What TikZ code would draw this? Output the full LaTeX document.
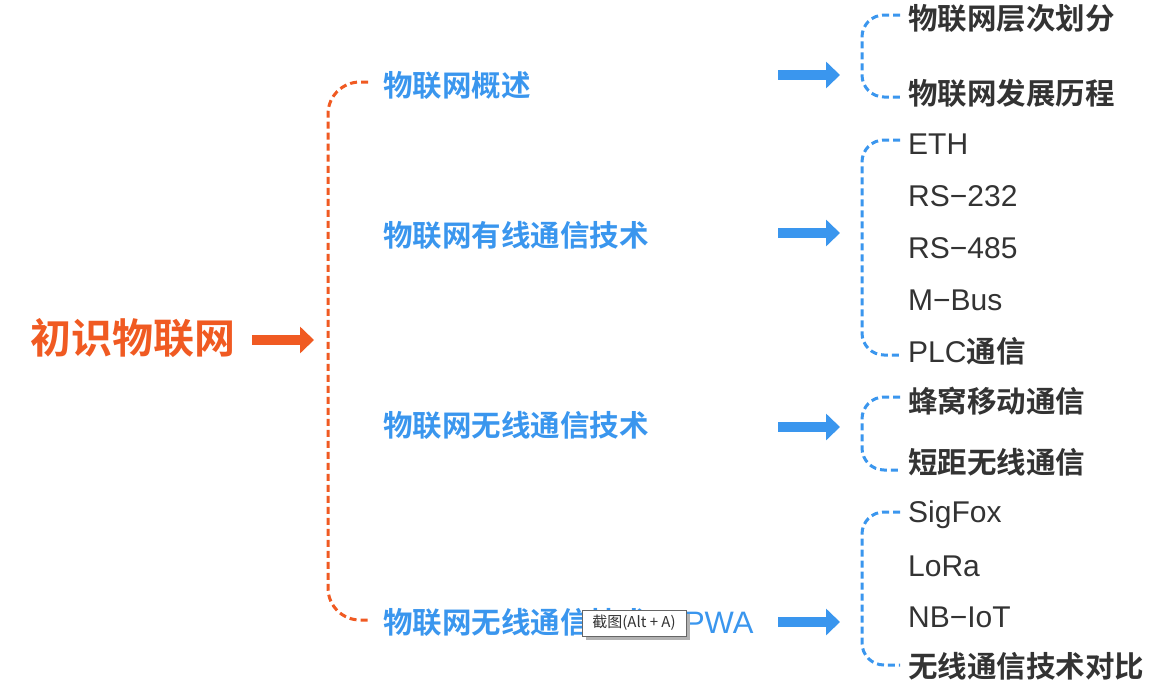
\documentclass[tikz,border=0pt]{standalone}
\usepackage{fontspec}
\setmainfont{Noto Sans CJK SC}[BoldFont={Noto Sans CJK SC Bold}]
\newfontfamily\lat{Liberation Sans}
\usetikzlibrary{arrows.meta}
\definecolor{org}{HTML}{F05A22}
\definecolor{blu}{HTML}{3A96EE}
\definecolor{txt}{HTML}{333333}
\begin{document}
\begin{tikzpicture}[x=1pt,y=-1pt,
  lbl/.style={anchor=west,inner sep=0pt,text=blu,font=\bfseries\fontsize{29.5}{29.5}\selectfont},
  leaf/.style={anchor=west,inner sep=0pt,text=txt,font=\bfseries\fontsize{29.5}{29.5}\selectfont},
  lleaf/.style={leaf,font=\lat\fontsize{30}{30}\selectfont},
  barr/.style={draw=blu,line width=10pt,-{Triangle[length=14pt,width=26pt]}},
  brace/.style={draw=blu,line width=3pt,dash pattern=on 7pt off 4pt,rounded corners=22pt},
  rbrace/.style={draw=org,line width=3pt,dash pattern=on 7pt off 4pt,rounded corners=32pt}]
\useasboundingbox (0,0) rectangle (1169,688);
\fill[white] (0,0) rectangle (1169,688);
\node[anchor=west,inner sep=0pt,text=org,font=\bfseries\fontsize{41}{41}\selectfont] (root) at (30,338) {初识物联网};
\coordinate (ra1) at (252,340); \coordinate (ra2) at (314,340);
\draw[draw=org,line width=10pt,-{Triangle[length=14pt,width=26pt]}] (ra1) -- (ra2);
\coordinate (rt) at (368,82); \coordinate (rb) at (368,620);
\draw[rbrace] (rt) -- (328,82) -- (328,620) -- (rb);
\node[lbl] (a) at (383,85) {物联网概述};
\node[lbl] (b) at (383,235) {物联网有线通信技术};
\node[lbl] (c) at (383,425) {物联网无线通信技术};
\node[lbl] (d) at (383,622) {物联网无线通信技术{\lat\mdseries\fontsize{31}{31}\selectfont −LPWA}};
\foreach \n/\y in {a1/75,b1/233,c1/427,d1/622}{
  \coordinate (\n s) at (778,\y); \coordinate (\n e) at (840,\y);
  \draw[barr] (\n s) -- (\n e);}
% group 1
\draw[brace] (900,15) -- (862,15) -- (862,97) -- (900,97);
\node[leaf] (g11) at (908,18) {物联网层次划分};
\node[leaf] (g12) at (908,93) {物联网发展历程};
% group 2
\draw[brace] (900,140) -- (862,140) -- (862,355) -- (900,355);
\node[lleaf] (g21) at (908,144) {ETH};
\node[lleaf] (g22) at (908,196) {RS−232};
\node[lleaf] (g23) at (908,248) {RS−485};
\node[lleaf] (g24) at (908,300) {M−Bus};
\node[leaf] (g25) at (908,351) {{\lat\mdseries\fontsize{30}{30}\selectfont PLC}通信};
% group 3
\draw[brace] (900,397) -- (862,397) -- (862,470) -- (900,470);
\node[leaf] (g31) at (908,401) {蜂窝移动通信};
\node[leaf] (g32) at (908,462) {短距无线通信};
% group 4
\draw[brace] (900,512) -- (862,512) -- (862,665) -- (900,665);
\node[lleaf] (g41) at (908,515) {SigFox};
\node[lleaf] (g42) at (908,566) {LoRa};
\node[lleaf] (g43) at (908,617) {NB−IoT};
\node[leaf] (g44) at (908,666) {无线通信技术对比};
% tooltip
\fill[black!30] (586,614) rectangle (690,640);
\node[draw=black!60,fill=white,line width=0.8pt,minimum width=104pt,minimum height=26pt,inner sep=0pt,font=\fontsize{15}{15}\selectfont,text=black!80] (tip) at (634,623) {截图(Alt + A)};
\end{tikzpicture}
\end{document}
